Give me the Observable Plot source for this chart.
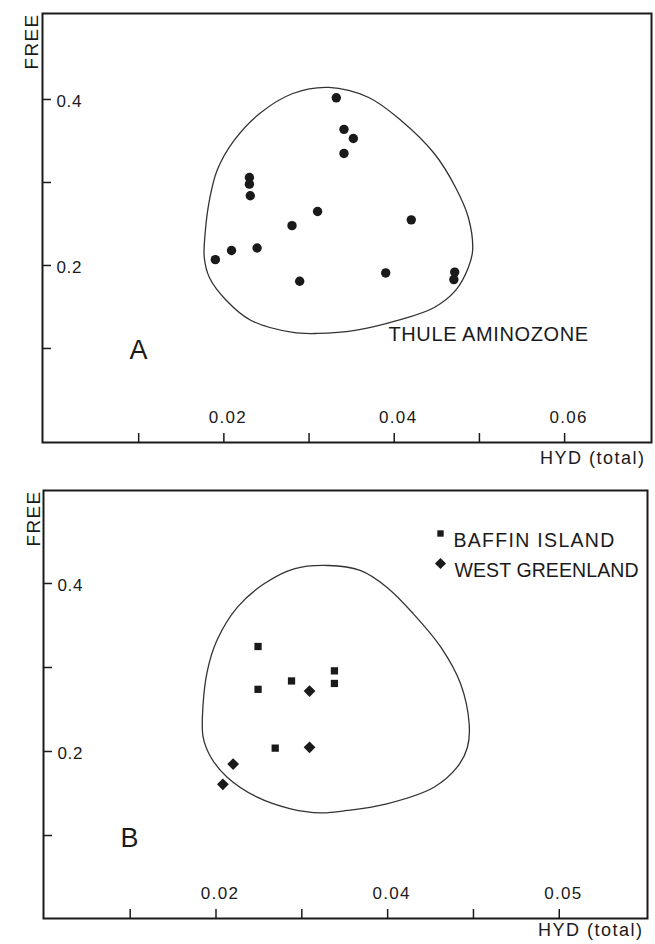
<!DOCTYPE html>
<html><head><meta charset="utf-8">
<script src="https://cdn.jsdelivr.net/npm/d3@7"></script>
<script src="https://cdn.jsdelivr.net/npm/@observablehq/plot@0.6"></script>
<style>
body{margin:0;background:#fff;}
#chart svg{display:block;overflow:visible;}
</style></head><body><div id="chart"></div>
<script>
// ---- Panel A: Thule aminozone ----
const thuleHyd  = [0.0332,0.0341,0.0352,0.0341,0.0230,0.0230,0.0231,0.0310,0.0280,0.0420,0.0209,0.0190,0.0239,0.0289,0.0390,0.0471,0.0470];
const thuleFree = [0.402,0.364,0.353,0.335,0.306,0.298,0.284,0.265,0.248,0.255,0.218,0.207,0.221,0.181,0.191,0.192,0.183];
const hullAHyd  = [0.0323,0.0370,0.0408,0.0447,0.0472,0.0487,0.0492,0.0487,0.0472,0.0447,0.0404,0.0354,0.0310,0.0281,0.0232,0.0203,0.0183,0.0177,0.0178,0.0183,0.0192,0.0212,0.0242,0.0281];
const hullAFree = [0.4145,0.4024,0.3747,0.3349,0.2940,0.2578,0.2181,0.1976,0.1699,0.1494,0.1337,0.1217,0.1181,0.1193,0.1337,0.1578,0.1855,0.2096,0.2386,0.2783,0.3145,0.3506,0.3831,0.4072];
// ---- Panel B ----
const baffinHyd  = [0.0249,0.0249,0.0288,0.0338,0.0338,0.0269];
const baffinFree = [0.325,0.274,0.284,0.296,0.281,0.204];
const greenHyd   = [0.0309,0.0309,0.0220,0.0208];
const greenFree  = [0.272,0.205,0.185,0.161];
const hullBHyd  = [0.0331,0.0368,0.0399,0.0430,0.0462,0.0485,0.0495,0.0493,0.0481,0.0454,0.0399,0.0353,0.0322,0.0287,0.0248,0.0213,0.0194,0.0185,0.0185,0.0190,0.0201,0.0225,0.0256,0.0291];
const hullBFree = [0.4214,0.4155,0.3956,0.3639,0.3242,0.2806,0.2330,0.2051,0.1813,0.1575,0.1377,0.1298,0.1270,0.1318,0.1456,0.1694,0.1932,0.2170,0.2568,0.2964,0.3321,0.3718,0.3996,0.4175];
// ---- ticks and labels ----
const xTicks = [0.01,0.02,0.03,0.04,0.05,0.06];
const xLabelVals = [0.02,0.04,0.06];
const xLabelsA = ["0.02","0.04","0.06"];
const xLabelsB = ["0.02","0.04","0.05"];
const yTicks = [0.1,0.2,0.3,0.4];
const yLabelVals = [0.2,0.4];
const yLabels = ["0.2","0.4"];
const xTitle = "HYD (total)";
const yTitle = "FREE";
const panelNames = ["A","B"];
const zoneName = "THULE AMINOZONE";
const legendNames = ["BAFFIN ISLAND","WEST GREENLAND"];

const zip = (xs, ys) => xs.map((x,i)=>({x, y: ys[i]}));
const INK = "#1a1a1a";
const FONT = "Liberation Sans, Arial, Helvetica, sans-serif";
// letter spacing (px) for the lettered texts of the figure (styling only)
const spacing = new Map([["HYD (total)",1.5],["FREE",1.3],["THULE AMINOZONE",0.6],["BAFFIN ISLAND",1.3],["WEST GREENLAND",0.1],["0.02",1.3],["0.04",1.3],["0.06",1.3],["0.05",1.3],["0.2",0.6],["0.4",0.6]]);

function panel(cfg) {
  const W = 655;
  const fw = W - cfg.ml - cfg.mr;
  const fh = cfg.h - cfg.mt - cfg.mb;
  const marks = [
    Plot.frame({stroke: INK, strokeWidth: 2}),
    Plot.ruleX(xTicks, {x: d=>d, insetTop: fh - 9, stroke: INK, strokeWidth: 1.5}),
    Plot.ruleY(yTicks, {y: d=>d, insetRight: fw - 9, stroke: INK, strokeWidth: 1.5}),
    Plot.text(xLabelVals, {x: d=>d, frameAnchor: "bottom", dy: -20, dx: 4, text: (d,i)=>cfg.xLabels[i], fontSize: 17, fill: INK}),
    Plot.text(yLabelVals, {y: d=>d, frameAnchor: "left", textAnchor: "start", dx: 14, dy: 2, text: (d,i)=>yLabels[i], fontSize: 17, fill: INK}),
    Plot.text([yTitle], {frameAnchor: "top-left", rotate: -90, textAnchor: "end", dx: cfg.yTitleDx, dy: 0, fontSize: 19, fill: INK}),
    Plot.text([xTitle], {frameAnchor: "bottom-right", textAnchor: "end", dx: cfg.xTitleDx, dy: cfg.xTitleDy, fontSize: 18, fill: INK}),
    Plot.text([cfg.name], {frameAnchor: "bottom-left", dx: cfg.nameDx, dy: cfg.nameDy, fontSize: 27, fill: INK}),
    Plot.line(zip(cfg.hullX, cfg.hullY), {x: "x", y: "y", curve: "catmull-rom-closed", stroke: "#333", strokeWidth: 1.3}),
    ...cfg.extra
  ];
  const svg = Plot.plot({
    width: W, height: cfg.h,
    marginLeft: cfg.ml, marginRight: cfg.mr, marginTop: cfg.mt, marginBottom: cfg.mb,
    x: {domain: cfg.xDomain, axis: null},
    y: {domain: cfg.yDomain, axis: null},
    style: {fontFamily: FONT, background: "#fff", color: INK, overflow: "visible"},
    marks
  });
  d3.select(svg).selectAll("text").each(function() {
    const s = spacing.get(this.textContent);
    if (s) this.setAttribute("letter-spacing", s);
  });
  return svg;
}

const chart = document.getElementById("chart");
chart.append(panel({
  h: 475, ml: 42, mr: 4, mt: 13, mb: 33,
  xDomain: [-0.00129, 0.0702], yDomain: [-0.0133, 0.5036],
  xLabels: xLabelsA, yTitleDx: -18, xTitleDx: -6, xTitleDy: 21,
  name: panelNames[0], nameDx: 87, nameDy: -84,
  hullX: hullAHyd, hullY: hullAFree,
  extra: [
    Plot.text([zoneName], {frameAnchor: "bottom-left", textAnchor: "start", dx: 346, dy: -102, fontSize: 20, fill: INK}),
    Plot.dot(zip(thuleHyd, thuleFree), {x: "x", y: "y", r: 4.7, fill: INK, stroke: "none"})
  ]
}));
chart.append(panel({
  h: 469, ml: 43, mr: 8, mt: 15, mb: 26,
  xDomain: [-0.0001, 0.07028], yDomain: [0.0012, 0.5107],
  xLabels: xLabelsB, yTitleDx: -17, xTitleDx: -4, xTitleDy: 17,
  name: panelNames[1], nameDx: 77, nameDy: -72,
  hullX: hullBHyd, hullY: hullBFree,
  extra: [
    Plot.dot(zip(baffinHyd, baffinFree), {x: "x", y: "y", symbol: "square", r: 4.1, fill: INK, stroke: "none"}),
    Plot.dot(zip(greenHyd, greenFree), {x: "x", y: "y", symbol: "diamond2", r: 5.3, fill: INK, stroke: "none"}),
    Plot.dot([legendNames[0]], {frameAnchor: "top-left", dx: 397, dy: 43, symbol: "square", r: 3.6, fill: INK, stroke: "none"}),
    Plot.dot([legendNames[1]], {frameAnchor: "top-left", dx: 397, dy: 73, symbol: "diamond2", r: 5.0, fill: INK, stroke: "none"}),
    Plot.text([legendNames[0]], {frameAnchor: "top-left", textAnchor: "start", dx: 410, dy: 43, fontSize: 19.5, fill: INK}),
    Plot.text([legendNames[1]], {frameAnchor: "top-left", textAnchor: "start", dx: 411, dy: 73, fontSize: 19.5, fill: INK})
  ]
}));
</script>
</body></html>
